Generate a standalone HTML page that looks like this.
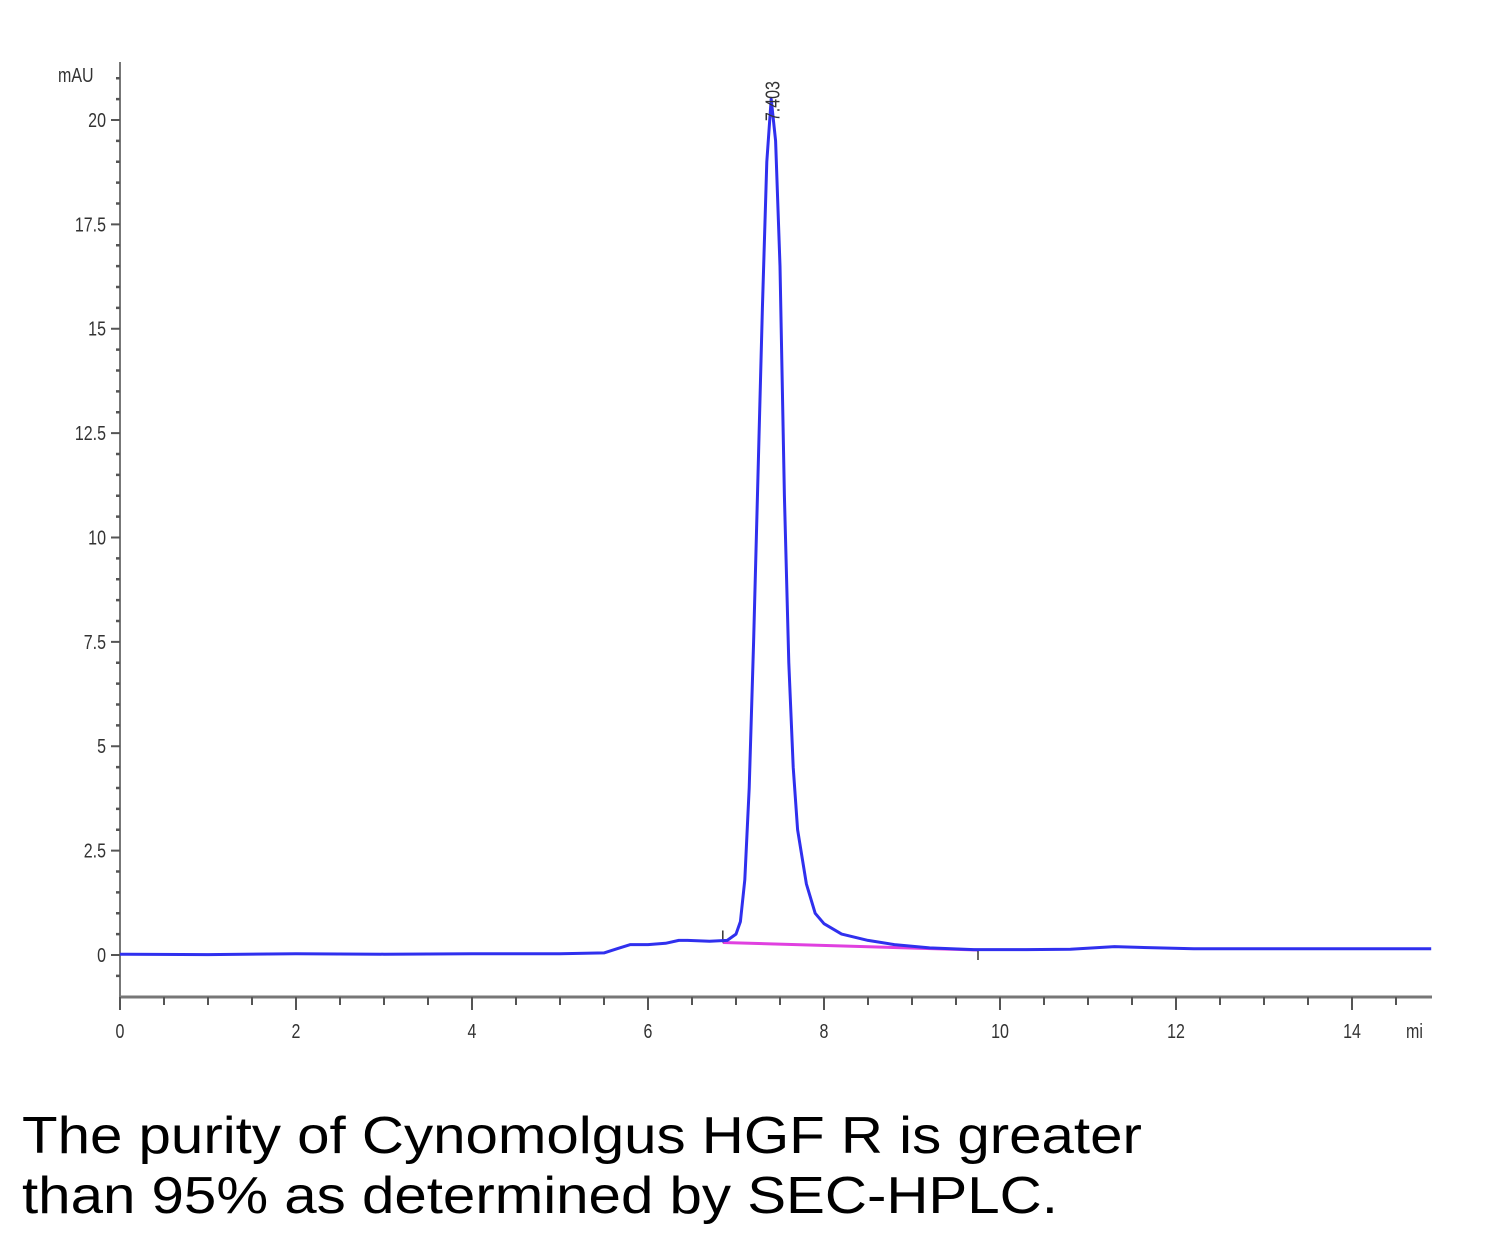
<!DOCTYPE html>
<html><head><meta charset="utf-8"><style>
body{margin:0;background:#fff;width:1500px;height:1252px;overflow:hidden;font-family:"Liberation Sans",sans-serif}
#cap{position:absolute;left:22px;top:1106px;font-size:52px;line-height:60px;color:#000;transform:scaleX(1.12);transform-origin:0 0;white-space:nowrap}
</style></head><body>
<svg id="chart" width="1500" height="1100" style="position:absolute;left:0;top:0"></svg>
<div id="cap">The purity of Cynomolgus HGF R is greater<br>than 95% as determined by SEC-HPLC.</div>
<script>
const times=[0,1,2,3,4,5,5.5,5.65,5.8,6.0,6.2,6.35,6.45,6.7,6.9,7.0,7.05,7.1,7.15,7.2,7.25,7.3,7.35,7.4,7.45,7.5,7.55,7.6,7.65,7.7,7.8,7.9,8.0,8.2,8.5,8.8,9.2,9.7,10.3,10.8,11.3,11.8,12.2,13,14,14.9];
const values=[0.02,0.01,0.03,0.02,0.03,0.03,0.05,0.15,0.25,0.25,0.28,0.35,0.35,0.33,0.35,0.5,0.8,1.8,4,7.5,11.5,15.5,19,20.5,19.5,16.5,11,7,4.5,3,1.7,1.0,0.75,0.5,0.35,0.25,0.17,0.13,0.13,0.14,0.2,0.17,0.15,0.15,0.15,0.15];
const yTicks=[0,2.5,5,7.5,10,12.5,15,17.5,20];
const xTicks=[0,2,4,6,8,10,12,14];
const peakLabel="7.403", peakTime=7.403, peakVal=20.5;
const baseStart=[6.85,0.3], baseEnd=[9.75,0.12];
const NS="http://www.w3.org/2000/svg";
const svg=document.getElementById('chart');
const X=t=>120+t*88, Y=v=>955-v*41.75;
function mk(tag,a,p){const e=document.createElementNS(NS,tag);for(const k in a)e.setAttribute(k,a[k]);(p||svg).appendChild(e);return e;}
let e;
e=mk('line',{x1:120,y1:62,x2:120,y2:997,stroke:'#777','stroke-width':2});


e=mk('line',{x1:120,y1:997,x2:1432,y2:997,stroke:'#777','stroke-width':3});


for(let k=-4;k<=43;k++){const v=k*0.5;const y=Y(v);if(y<65||y>995)continue;
 const major=yTicks.includes(v);
 mk('line',{x1:major?111:116,y1:y,x2:120,y2:y,stroke:'#555','stroke-width':major?2:2.5});}
yTicks.forEach(v=>{e=mk('text',{x:106/0.8,y:Y(v)+7,'text-anchor':'end','font-size':20,fill:'#333',transform:'scale(0.8,1)'});
 e.textContent=v;
 
 });
e=mk('text',{x:58/0.8,y:82,'font-size':20,fill:'#333',transform:'scale(0.8,1)'});e.textContent='mAU';


for(let k=0;k<=29;k++){const t=k*0.5;const x=X(t);if(x>1430)continue;const major=xTicks.includes(t);
 mk('line',{x1:x,y1:997,x2:x,y2:major?1010:1005,stroke:'#555','stroke-width':2});}
xTicks.forEach(t=>{e=mk('text',{x:X(t)/0.8,y:1038,'text-anchor':'middle','font-size':20,fill:'#333',transform:'scale(0.8,1)'});e.textContent=t;
 
 });
e=mk('text',{x:1406/0.8,y:1038,'font-size':20,fill:'#333',transform:'scale(0.8,1)'});e.textContent='mi';


e=mk('line',{x1:X(baseStart[0]),y1:Y(baseStart[1]),x2:X(baseEnd[0]),y2:Y(baseEnd[1]),stroke:'#e040e0','stroke-width':3});


mk('line',{x1:X(baseStart[0]),y1:Y(baseStart[1])-12,x2:X(baseStart[0]),y2:Y(baseStart[1]),stroke:'#333','stroke-width':1.5});
mk('line',{x1:X(baseEnd[0]),y1:Y(baseEnd[1]),x2:X(baseEnd[0]),y2:Y(baseEnd[1])+10,stroke:'#333','stroke-width':1.5});
let d=times.map((t,i)=>(i?'L':'M')+X(t).toFixed(1)+','+Y(values[i]).toFixed(1)).join(' ');
e=mk('path',{d:d,fill:'none',stroke:'#3030ee','stroke-width':3,'stroke-linejoin':'round'});


e=mk('text',{x:0,y:0,'font-size':20,fill:'#333',transform:`translate(${X(peakTime)+8},${Y(peakVal)+22}) rotate(-90) scale(0.8,1)`});
e.textContent=peakLabel;


</script>
</body></html>
